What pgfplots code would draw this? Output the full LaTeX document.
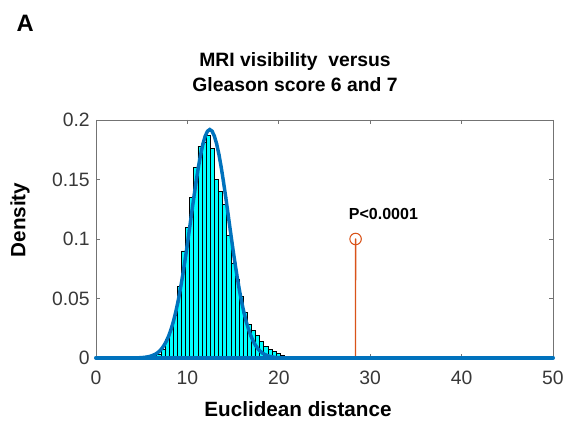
\documentclass[border=0pt]{standalone}
\usepackage{pgfplots}
\pgfplotsset{compat=1.18}
\usepackage{fontspec}
\setmainfont{Liberation Sans}
\definecolor{mblue}{HTML}{0072BD}
\definecolor{morange}{HTML}{D95319}
\definecolor{mcyan}{rgb}{0,1,1}
\begin{document}
\begin{tikzpicture}
\begin{axis}[
  set layers,
  at={(0,0)}, anchor=south west,
  scale only axis, width=342.75pt, height=178.5pt,
  xmin=0, xmax=50, ymin=0, ymax=0.2,
  xtick={0,10,20,30,40,50},
  ytick={0,0.05,0.1,0.15,0.2},
  yticklabels={0,0.05,0.1,0.15,0.2},
  tick align=inside, major tick length=3pt,
  axis line style={black!55, line width=0.6pt},
  tick style={black!55, line width=0.6pt},
  ticklabel style={font=\fontsize{14.5}{16}\selectfont, text=black!78},
  /pgf/number format/assume math mode=true,
  xticklabel style={yshift=-6.2pt},
  yticklabel style={xshift=-1.2pt},
  clip=false,
]
\addplot[ybar interval, fill=mcyan, draw=black, line width=0.45pt] coordinates {
(6.20,0.001) (6.65,0.003) (7.10,0.007) (7.55,0.016) (8.00,0.024)
(8.45,0.036) (8.90,0.060) (9.35,0.090) (9.80,0.110) (10.25,0.135)
(10.70,0.160) (11.15,0.178) (11.60,0.181) (12.05,0.187) (12.50,0.176)
(12.95,0.150) (13.40,0.140) (13.85,0.129) (14.30,0.103) (14.75,0.080)
(15.20,0.066) (15.65,0.052) (16.10,0.038) (16.55,0.028) (17.00,0.0235)
(17.45,0.019) (17.90,0.0137) (18.35,0.010) (18.80,0.0073) (19.25,0.0053)
(19.70,0.004) (20.15,0.0025) (20.60,0.0025)
};
\addplot[draw=morange, line width=1.0pt, line cap=round, mark=none] coordinates {(28.4,0.001) (28.401,0.1)};
\addplot[only marks, mark=o, mark size=4.3pt, mark options={draw=morange, fill=none, line width=0.8pt}] coordinates {(28.4,0.1)};
\addplot[mblue, line width=3pt, line cap=round, line join=round] coordinates {
(0,0.0002) (10,0.0002) (20,0.0002) (30,0.0002) (40,0.0002) (50,0.0002)};
\addplot[mblue, line width=2.6pt, mark=*, mark size=1.1pt, mark options={fill=mblue, draw=mblue, line width=0.2pt}] coordinates {
(3.95,0.00005) (4.45,0.00012) (4.95,0.00029) (5.45,0.00067) (5.95,0.00145)
(6.45,0.00300) (6.7,0.00421) (6.95,0.00582) (7.2,0.00794) (7.45,0.01068)
(7.7,0.01415) (7.95,0.0185) (8.2,0.0238) (8.45,0.0302) (8.7,0.0378)
(8.95,0.0466) (9.2,0.0566) (9.45,0.0679) (9.7,0.0801) (9.95,0.0932)
(10.2,0.1070) (10.45,0.1209) (10.7,0.1348) (10.95,0.1480) (11.2,0.1603)
(11.45,0.1710) (11.7,0.1799) (11.95,0.1865) (12.2,0.1906) (12.45,0.1920)
(12.7,0.1906) (12.95,0.1865) (13.2,0.1799) (13.45,0.1710) (13.7,0.1603)
(13.95,0.1480) (14.2,0.1348) (14.45,0.1209) (14.7,0.1070) (14.95,0.0932)
(15.2,0.0801) (15.45,0.0679) (15.7,0.0566) (15.95,0.0466) (16.2,0.0378)
(16.45,0.0302) (16.7,0.0238) (16.95,0.0185) (17.2,0.01415) (17.45,0.01068)
(17.7,0.00794) (17.95,0.00582) (18.2,0.00421) (18.45,0.00300) (18.95,0.00145)
(19.45,0.00067) (19.95,0.00029) (20.45,0.00012) (20.95,0.00005)
};
\node[anchor=base, font=\bfseries\fontsize{12}{14}\selectfont] at (axis cs:31.45,0.1168) {P<0.0001};
\end{axis}
\node[anchor=base west, font=\bfseries\fontsize{17.8}{20}\selectfont] at (-63pt,244.5pt) {A};
\node[anchor=base, font=\bfseries\fontsize{14.5}{16}\selectfont] at (149.25pt,218.25pt) {MRI visibility\ \ versus};
\node[anchor=base, font=\bfseries\fontsize{14.5}{16}\selectfont] at (149.25pt,199.5pt) {Gleason score 6 and 7};
\node[anchor=base, font=\bfseries\fontsize{15.5}{17}\selectfont] at (151.5pt,-43.5pt) {Euclidean distance};
\node[rotate=90, font=\bfseries\fontsize{15.5}{17}\selectfont] at (-57pt,103.5pt) {Density};
\pgfresetboundingbox
\path[use as bounding box] (-72pt,-54.75pt) rectangle (352.5pt,268.5pt);
\end{tikzpicture}
\end{document}
